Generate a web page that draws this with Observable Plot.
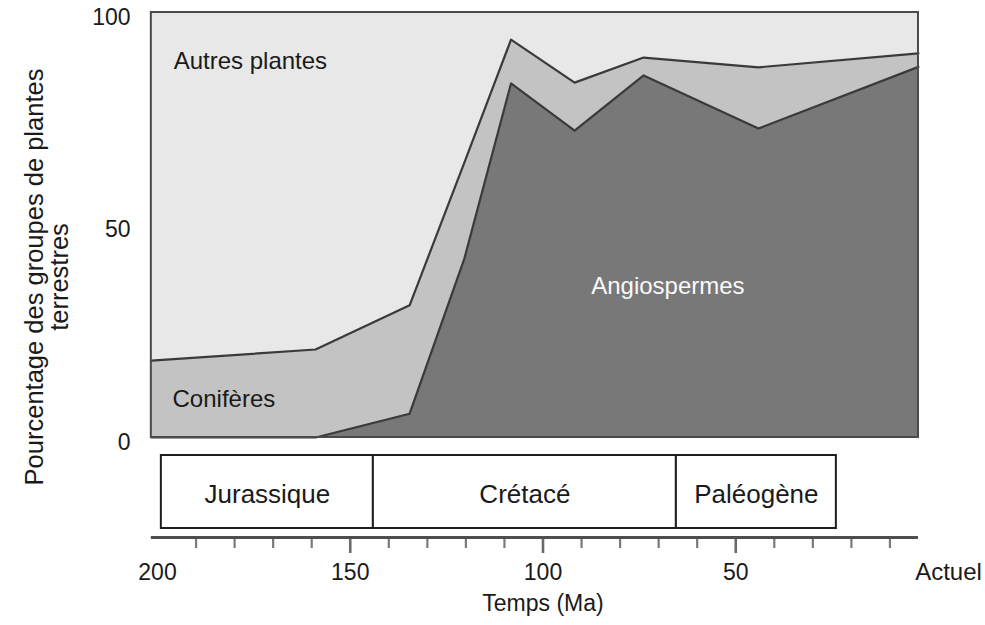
<!DOCTYPE html>
<html>
<head>
<meta charset="utf-8">
<script src="https://cdn.jsdelivr.net/npm/d3@7"></script>
<script src="https://cdn.jsdelivr.net/npm/@observablehq/plot@0.6"></script>
<style>
  html, body { margin: 0; padding: 0; background: #fff; }
  #chart { position: relative; width: 985px; height: 625px; background: #fff; font-family: "Liberation Sans", Arial, sans-serif; color: #1a1a1a; }
  #chart svg { display: block; background: transparent; }
  #ylabel { position: absolute; left: 47px; top: 277px; transform: translate(-50%, -50%) rotate(-90deg); white-space: nowrap; text-align: center; font-size: 25.5px; line-height: 25px; }
</style>
</head>
<body>
<div id="chart"><div id="ylabel">Pourcentage des groupes de plantes<br>terrestres</div></div>
<script>
// Time (Ma) of each reading, and percentage share of each group
const ages          = [201.6, 159, 134.6, 120.4, 108.3, 91.8, 73.9, 44.1, 2.6];
const angiospermes  = [0, 0, 5.6, 42.1, 83.3, 72.2, 85.2, 72.7, 87.2];
const coniferes     = [18.1, 20.7, 25.5, 22.6, 10.3, 11.3, 4.2, 14.4, 3.2];
const autres        = [81.9, 79.3, 68.9, 35.3, 6.4, 16.5, 10.6, 12.9, 9.6];
const groups        = ["Angiospermes", "Conifères", "Autres plantes"];
const groupColors   = ["#787878", "#c3c3c3", "#e8e8e8"];

// Geological periods (Ma)
const periodNames = ["Jurassique", "Crétacé", "Paléogène"];
const periodStart = [199, 144, 65.4];
const periodEnd   = [144, 65.4, 23.9];

// Axis ticks
const yTicks      = [0, 50, 100];
const minorTicks  = [190, 180, 170, 160, 140, 130, 120, 110, 90, 80, 70, 60, 40, 30, 20, 10];
const majorTicks  = [150, 100, 50];
const tickValues  = [200, 150, 100, 50];
const tickLabels  = ["200", "150", "100", "50"];

// Area annotations
const labelNames = ["Autres plantes", "Conifères", "Angiospermes"];
const labelAge   = [195.8, 196.1, 67.6];
const labelPct   = [88.6, 8.9, 35.6];

const series = [angiospermes, coniferes, autres];
const rows = [];
groups.forEach((g, gi) => ages.forEach((a, i) => rows.push({age: a, group: g, value: series[gi][i]})));
const ageMax = d3.max(ages), ageMin = d3.min(ages);

const W = 985, ML = 157, MR = 57;
const font = "Liberation Sans, Arial, sans-serif";

const topPlot = Plot.plot({
  width: W, height: 445,
  marginTop: 12, marginBottom: 8, marginLeft: ML, marginRight: MR,
  style: {fontFamily: font, background: "transparent", overflow: "visible"},
  x: {domain: [200, 0], axis: null, label: null},
  y: {domain: [0, 100], axis: null, label: null},
  color: {domain: groups, range: groupColors},
  marks: [
    Plot.areaY(rows, {x: "age", y: "value", z: "group", fill: "group", order: groups}),
    Plot.lineY(rows.filter(d => d.group !== "Autres plantes"),
      Plot.stackY2({x: "age", y: "value", z: "group", order: groups, stroke: "#3a3a3a", strokeWidth: 2.2})),
    Plot.rect([0], {x1: ageMax, x2: ageMin, y1: 0, y2: 100, fill: "none", stroke: "#4a4a4a", strokeWidth: 2}),
    Plot.axisY({ticks: yTicks, tickSize: 0, tickPadding: 27, fontSize: 23, dy: 5, fill: "#1a1a1a", label: null}),
    Plot.text(labelNames.slice(0, 2), {x: (d, i) => labelAge[i], y: (d, i) => labelPct[i], text: d => d,
      textAnchor: "start", fontSize: 24, fill: "#1a1a1a"}),
    Plot.text(labelNames.slice(2), {x: (d, i) => labelAge[2 + i], y: (d, i) => labelPct[2 + i], text: d => d,
      textAnchor: "middle", fontSize: 24, fill: "#fafafa"})
  ]
});

const periods = periodNames.map((n, i) => ({name: n, start: periodStart[i], end: periodEnd[i]}));

const bottomPlot = Plot.plot({
  width: W, height: 180,
  marginTop: 10, marginBottom: 88, marginLeft: ML, marginRight: MR,
  style: {fontFamily: font, background: "transparent", overflow: "visible"},
  x: {domain: [200, 0], axis: null, label: null},
  y: {domain: [0, 1], axis: null, label: null},
  marks: [
    Plot.rect(periods, {x1: "start", x2: "end", insetBottom: 9, fill: "white", stroke: "#1e1e1e", strokeWidth: 2}),
    Plot.text(periods, {x: d => (d.start + d.end) / 2, text: "name", fontSize: 26, dy: -2, fill: "#1a1a1a"}),
    Plot.axisX({ticks: minorTicks, tickSize: 11, tickFormat: () => "", stroke: "#7a7a7a", strokeWidth: 2.2, label: null}),
    Plot.axisX({ticks: majorTicks, tickSize: 16, tickFormat: () => "", stroke: "#6a6a6a", strokeWidth: 2.6, label: null}),
    Plot.ruleY([0], {x1: ageMax, x2: ageMin, stroke: "#4e4e4e", strokeWidth: 3.2}),
    Plot.text(tickValues, {x: d => d, text: (d, i) => tickLabels[i], frameAnchor: "bottom", dy: 42, fontSize: 23, fill: "#1a1a1a"}),
    Plot.text(["Actuel"], {x: () => 0, text: d => d, frameAnchor: "bottom", dy: 42, dx: 20, fontSize: 24, fill: "#1a1a1a"}),
    Plot.text(["Temps (Ma)"], {text: d => d, frameAnchor: "bottom", dy: 73, fontSize: 23, fill: "#1a1a1a"})
  ]
});

const chart = document.getElementById("chart");
chart.appendChild(topPlot);
chart.appendChild(bottomPlot);
chart.appendChild(document.getElementById("ylabel"));
</script>
</body>
</html>
